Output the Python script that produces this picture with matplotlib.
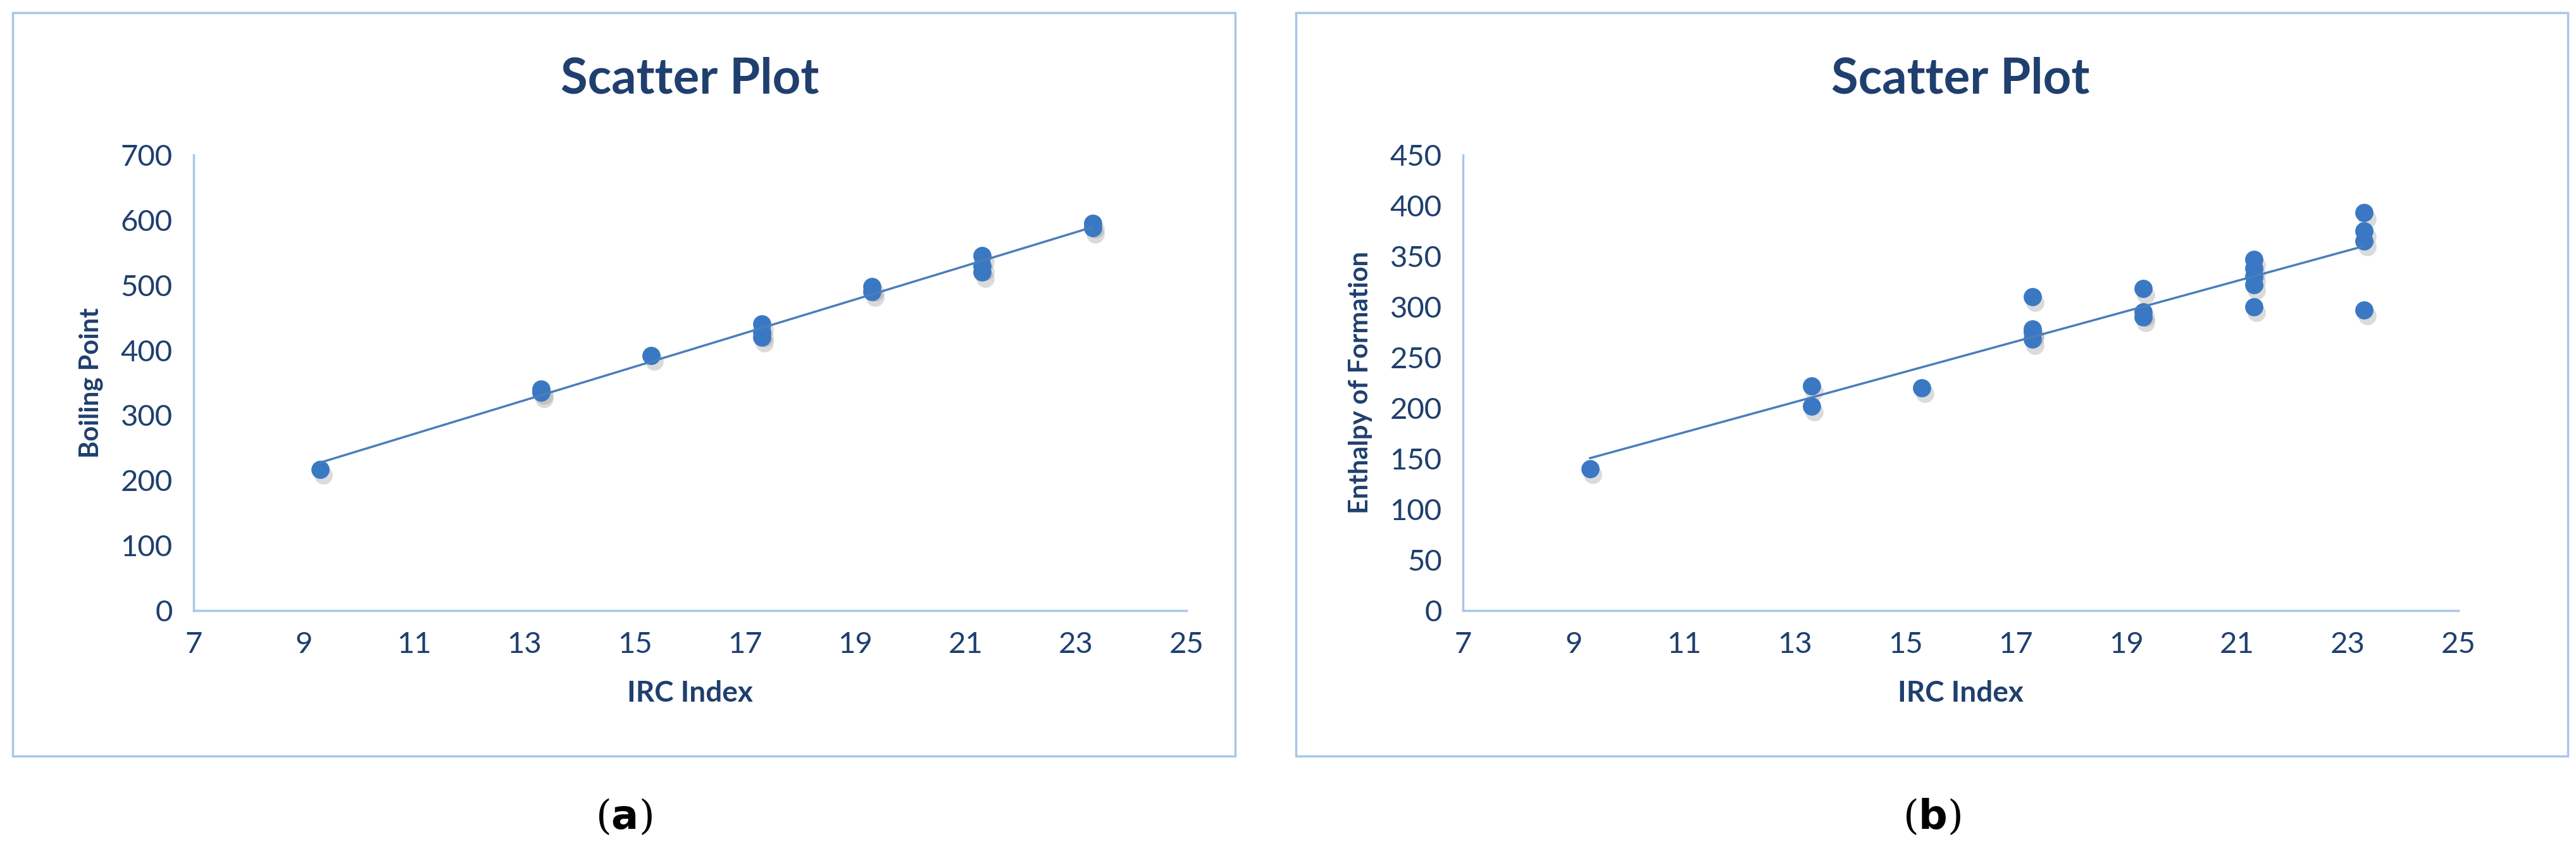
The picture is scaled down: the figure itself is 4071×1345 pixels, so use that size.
import numpy as np
import matplotlib
matplotlib.use("Agg")
import matplotlib.pyplot as plt
from matplotlib.patches import Rectangle

x_a = [9.3, 13.3, 13.3, 15.3, 17.3, 17.3, 17.3, 19.3, 19.3, 21.3, 21.3, 21.3, 23.3, 23.3]
y_a = [217, 335, 340, 392, 420, 428, 440, 490, 498, 520, 530, 545, 588, 595]
x_b = [9.3, 13.3, 13.3, 15.3, 17.3, 17.3, 17.3, 17.3, 19.3, 19.3, 19.3,
       21.3, 21.3, 21.3, 21.3, 21.3, 23.3, 23.3, 23.3, 23.3]
y_b = [140, 202, 222, 220, 268, 275, 278, 310, 290, 295, 318,
       300, 322, 330, 338, 347, 297, 365, 375, 393]
xticks = [7, 9, 11, 13, 15, 17, 19, 21, 23, 25]

W, H = 4071, 1345
fig = plt.figure(figsize=(W/100, H/100), dpi=100)
fam = ['Lato', 'DejaVu Sans']
tc = '#1F3F6E'
blue = '#3A78C3'
axc = '#A9C6EA'

def panel(box, axrect, xs, ys, ylim, ystep, ylabel, sub):
    bx0, by0, bx1, by1 = box
    fig.patches.append(Rectangle((bx0/W, 1-by1/H), (bx1-bx0)/W, (by1-by0)/H,
                                 transform=fig.transFigure, fill=False,
                                 edgecolor=axc, lw=2.5))
    x0, y0, x1, y1 = axrect
    ax = fig.add_axes([x0/W, 1-y1/H, (x1-x0)/W, (y1-y0)/H])
    xs = np.array(xs); ys = np.array(ys)
    ax.scatter(xs+0.05, ys-ylim*0.013, s=430, color='#999999', alpha=0.35, lw=0, zorder=2)
    ax.scatter(xs, ys, s=430, color=blue, lw=0, zorder=3)
    m, c = np.polyfit(xs, ys, 1)
    xl = np.array([xs.min(), xs.max()])
    ax.plot(xl, m*xl+c, color='#4A7EBB', lw=2.5, zorder=4)
    ax.set_xlim(7, 25); ax.set_ylim(0, ylim)
    ax.set_xticks(xticks)
    ax.set_yticks(np.arange(0, ylim+1, ystep))
    for s in ['top', 'right']:
        ax.spines[s].set_visible(False)
    for s in ['left', 'bottom']:
        ax.spines[s].set_color(axc); ax.spines[s].set_linewidth(2.5)
    ax.tick_params(length=0, labelsize=34, labelcolor=tc, pad=24)
    for t in ax.get_xticklabels()+ax.get_yticklabels():
        t.set_family(fam)
    ax.set_xlabel('IRC Index', fontsize=33, color=tc, fontweight='bold', family=fam, labelpad=25)
    ax.set_ylabel(ylabel, fontsize=30, color=tc, fontweight='bold', family=fam, labelpad=20)
    ax.set_title('Scatter Plot', fontsize=56, color=tc, fontweight='bold', family=fam, pad=70)
    fig.text((bx0+bx1)/2/W, 1-1292/H, sub, ha='center', va='center', fontsize=46,
             family='DejaVu Serif')
    return ax

panel((20, 20, 1952, 1195), (306, 245, 1875, 965), x_a, y_a, 700, 100, 'Boiling Point', '($\\mathbf{a}$)')
panel((2048, 20, 4058, 1195), (2312, 245, 3885, 965), x_b, y_b, 450, 50, 'Enthalpy of Formation', '($\\mathbf{b}$)')
fig.savefig('out.png', dpi=100, facecolor='white')
